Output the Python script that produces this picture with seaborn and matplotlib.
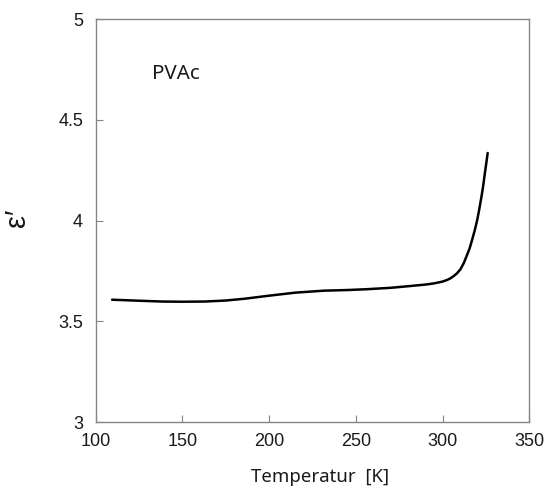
import matplotlib
matplotlib.use("Agg")
import matplotlib.pyplot as plt
import seaborn as sns
import pandas as pd

# Data
temperature = [109.5, 125, 138, 150, 163, 175, 186, 200, 215, 225, 232, 245, 256, 270, 281.4, 290, 295,
               300, 302.6, 304.5, 306.5, 308.3, 310.3, 312.3, 314.1, 315.6, 317, 318.5, 319.9, 321.2,
               322.4, 323.3, 324.1, 325.2, 326.0]
eps = [3.607, 3.602, 3.598, 3.597, 3.598, 3.603, 3.612, 3.627, 3.642, 3.648, 3.652, 3.655, 3.659, 3.666,
       3.675, 3.682, 3.688, 3.697, 3.705, 3.713, 3.725, 3.738, 3.758, 3.79, 3.829, 3.862, 3.903, 3.95,
       4.0, 4.058, 4.118, 4.165, 4.217, 4.285, 4.335]
xticks = [100, 150, 200, 250, 300, 350]
yticks = [3, 3.5, 4, 4.5, 5]
ytick_labels = ["3", "3.5", "4", "4.5", "5"]

df = pd.DataFrame({"T": temperature, "eps": eps})

sns.set_style("white")
plt.rcParams["font.family"] = ["Liberation Sans", "DejaVu Sans"]

fig = plt.figure(figsize=(5.52, 4.88), dpi=100)
ax = fig.add_axes([0.1732, 0.1352, 0.7857, 0.8258])
sns.lineplot(data=df, x="T", y="eps", ax=ax, color="black", linewidth=1.8, sort=False)

ax.set_xlim(100, 350)
ax.set_ylim(3, 5)
ax.set_xticks(xticks)
ax.set_xticklabels([str(t) for t in xticks])
ax.set_yticks(yticks)
ax.set_yticklabels(ytick_labels)
ax.set_xlabel("")
ax.set_ylabel("")

for s in ax.spines.values():
    s.set_color("#858585")
    s.set_linewidth(1.0)
ax.tick_params(axis="both", direction="in", length=5, width=0.8, color="#858585",
               labelsize=13, labelcolor="#1a1a1a", left=True, bottom=True, right=False, top=False)
ax.tick_params(axis="x", pad=8)
ax.tick_params(axis="y", pad=9)

fig.text(320 / 552, 1 - 477 / 488, "Temperatur  [K]", ha="center", va="center",
         fontsize=13.4, family=["Noto Sans", "DejaVu Sans"], color="#1a1a1a")
fig.text(17 / 552, 1 - 218 / 488, "ε′", ha="center", va="center", rotation=90,
         fontsize=21, family=["Liberation Sans", "DejaVu Sans"], color="#1a1a1a")
ax.text(176 / 552, 1 - 74 / 488, "PVAc", transform=fig.transFigure, ha="center", va="center",
        fontsize=14.8, family=["Noto Sans", "DejaVu Sans"], color="#1a1a1a")

fig.savefig("out.png", dpi=100)
